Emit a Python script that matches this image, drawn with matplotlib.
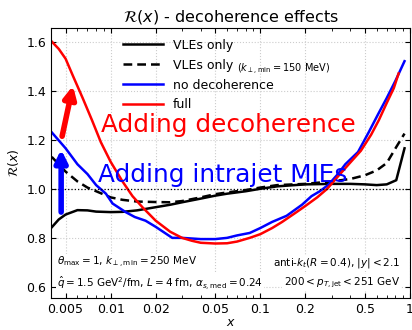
from matplotlib import pyplot as plt
import numpy as np

x_red = [0.00404, 0.0045, 0.005, 0.0056, 0.0065, 0.0075, 0.0086, 0.010, 0.012, 0.014, 0.0163, 0.02, 0.025,
         0.03, 0.035, 0.04, 0.05, 0.06, 0.07, 0.085, 0.1, 0.12, 0.14, 0.17, 0.2, 0.24, 0.28, 0.33, 0.39,
         0.47, 0.55, 0.62, 0.7, 0.78, 0.84]
r_full = [1.60, 1.57, 1.53, 1.46, 1.37, 1.28, 1.19, 1.11, 1.03, 0.97, 0.925, 0.87, 0.825,
          0.80, 0.788, 0.78, 0.777, 0.778, 0.785, 0.80, 0.815, 0.84, 0.865, 0.90, 0.93, 0.965, 1.00, 1.05, 1.10,
          1.155, 1.22, 1.28, 1.35, 1.41, 1.47]

x_blue = [0.00404, 0.005, 0.006, 0.007, 0.008, 0.0093, 0.0103, 0.0126, 0.0145, 0.0171, 0.02, 0.0258,
          0.03, 0.04, 0.05, 0.06, 0.07, 0.085, 0.1, 0.12, 0.15, 0.19, 0.22, 0.25, 0.285, 0.33, 0.37,
          0.45, 0.53, 0.614, 0.7, 0.8, 0.92]
r_nodeco = [1.23, 1.165, 1.10, 1.06, 1.015, 0.98, 0.94, 0.905, 0.885, 0.87, 0.845, 0.80,
            0.80, 0.795, 0.795, 0.80, 0.81, 0.82, 0.84, 0.865, 0.89, 0.935, 0.97, 0.99, 1.016, 1.06, 1.10,
            1.15, 1.23, 1.305, 1.37, 1.44, 1.52]

x_vle = [0.00404, 0.0045, 0.005, 0.006, 0.007, 0.008, 0.01, 0.012, 0.015, 0.02, 0.025, 0.03, 0.04,
         0.05, 0.06, 0.08, 0.1, 0.13, 0.2, 0.3, 0.4, 0.5, 0.6, 0.7, 0.81, 0.92]
r_vle = [0.843, 0.875, 0.895, 0.913, 0.912, 0.907, 0.905, 0.906, 0.912, 0.925, 0.935, 0.945, 0.96,
         0.972, 0.98, 0.99, 1.0, 1.01, 1.018, 1.02, 1.02, 1.018, 1.015, 1.018, 1.035, 1.165]
r_vle150 = [1.13, 1.10, 1.07, 1.03, 1.005, 0.99, 0.965, 0.955, 0.948, 0.946, 0.945, 0.95, 0.965,
            0.978, 0.985, 0.995, 1.005, 1.015, 1.02, 1.03, 1.04, 1.055, 1.075, 1.105, 1.17, 1.225]

xticks = [0.005, 0.01, 0.02, 0.05, 0.1, 0.2, 0.5, 1]
xticklabels = ["0.005", "0.01", "0.02", "0.05", "0.1", "0.2", "0.5", "1"]
yticks = [0.6, 0.8, 1.0, 1.2, 1.4, 1.6]

fig = plt.figure(figsize=(4.12, 3.3), dpi=100)
ax = fig.add_axes([0.124, 0.097, 0.871, 0.818])

ax.plot(x_vle, r_vle, color="black", lw=1.8, label="VLEs only")
ax.plot(x_vle, r_vle150, color="black", lw=1.8, ls=(0, (3.5, 2)), label="VLEs only")
ax.plot(x_blue, r_nodeco, color="blue", lw=1.8, label="no decoherence")
ax.plot(x_red, r_full, color="red", lw=1.8, label="full")
ax.axhline(1.0, color="black", lw=0.9, ls=":")

ax.set_xscale("log")
ax.set_xlim(0.004, 1)
ax.set_ylim(0.555, 1.655)
ax.set_xticks(xticks)
ax.set_xticklabels(xticklabels)
ax.set_yticks(yticks)
ax.grid(True, which="major", color="#cccccc", ls=":", lw=0.8)
ax.tick_params(which="both", direction="in", top=True, right=True, labelsize=9)
ax.set_xlabel("$x$", fontsize=9, labelpad=0)
ax.set_ylabel(r"$\mathcal{R}(x)$", fontsize=9)
ax.set_title(r"$\mathcal{R}(x)$ - decoherence effects", fontsize=11.5, pad=5)

ax.legend(loc="upper left", bbox_to_anchor=(0.2, 0.96), frameon=False, fontsize=9,
          handlelength=3.2, handletextpad=0.8, labelspacing=0.55, borderpad=0, borderaxespad=0)
ax.text(0.518, 0.848, r"$(k_{\perp,\rm min} = 150$ MeV$)$", transform=ax.transAxes, fontsize=7, va="center")

ax.annotate("", xy=(0.0056, 1.42), xytext=(0.00474, 1.214),
            arrowprops=dict(arrowstyle="-|>", color="red", lw=4, mutation_scale=18, shrinkA=0, shrinkB=0))
ax.annotate("", xy=(0.00467, 1.16), xytext=(0.00467, 0.905),
            arrowprops=dict(arrowstyle="-|>", color="blue", lw=4, mutation_scale=18, shrinkA=0, shrinkB=0))
ax.text(0.0086, 1.26, "Adding decoherence", color="red", fontsize=17.8, va="center")
ax.text(0.0082, 1.058, "Adding intrajet MIEs", color="blue", fontsize=17.8, va="center")

box = dict(facecolor="white", edgecolor="none", pad=1)
ax.text(0.017, 0.13, r"$\theta_{\rm max} = 1$, $k_{\perp,\rm min} = 250$ MeV", transform=ax.transAxes,
        fontsize=7.5, va="center", bbox=box)
ax.text(0.017, 0.056, r"$\hat{q} = 1.5$ GeV$^2$/fm, $L = 4$ fm, $\alpha_{s,\rm med} = 0.24$",
        transform=ax.transAxes, fontsize=7.5, va="center", bbox=box)
ax.text(0.972, 0.13, r"anti-$k_t(R = 0.4)$, $|y| < 2.1$", transform=ax.transAxes,
        fontsize=7.5, va="center", ha="right", bbox=box)
ax.text(0.972, 0.056, r"$200 < p_{T,\rm jet} < 251$ GeV", transform=ax.transAxes,
        fontsize=7.5, va="center", ha="right", bbox=box)

fig.savefig("out.png", dpi=100)
